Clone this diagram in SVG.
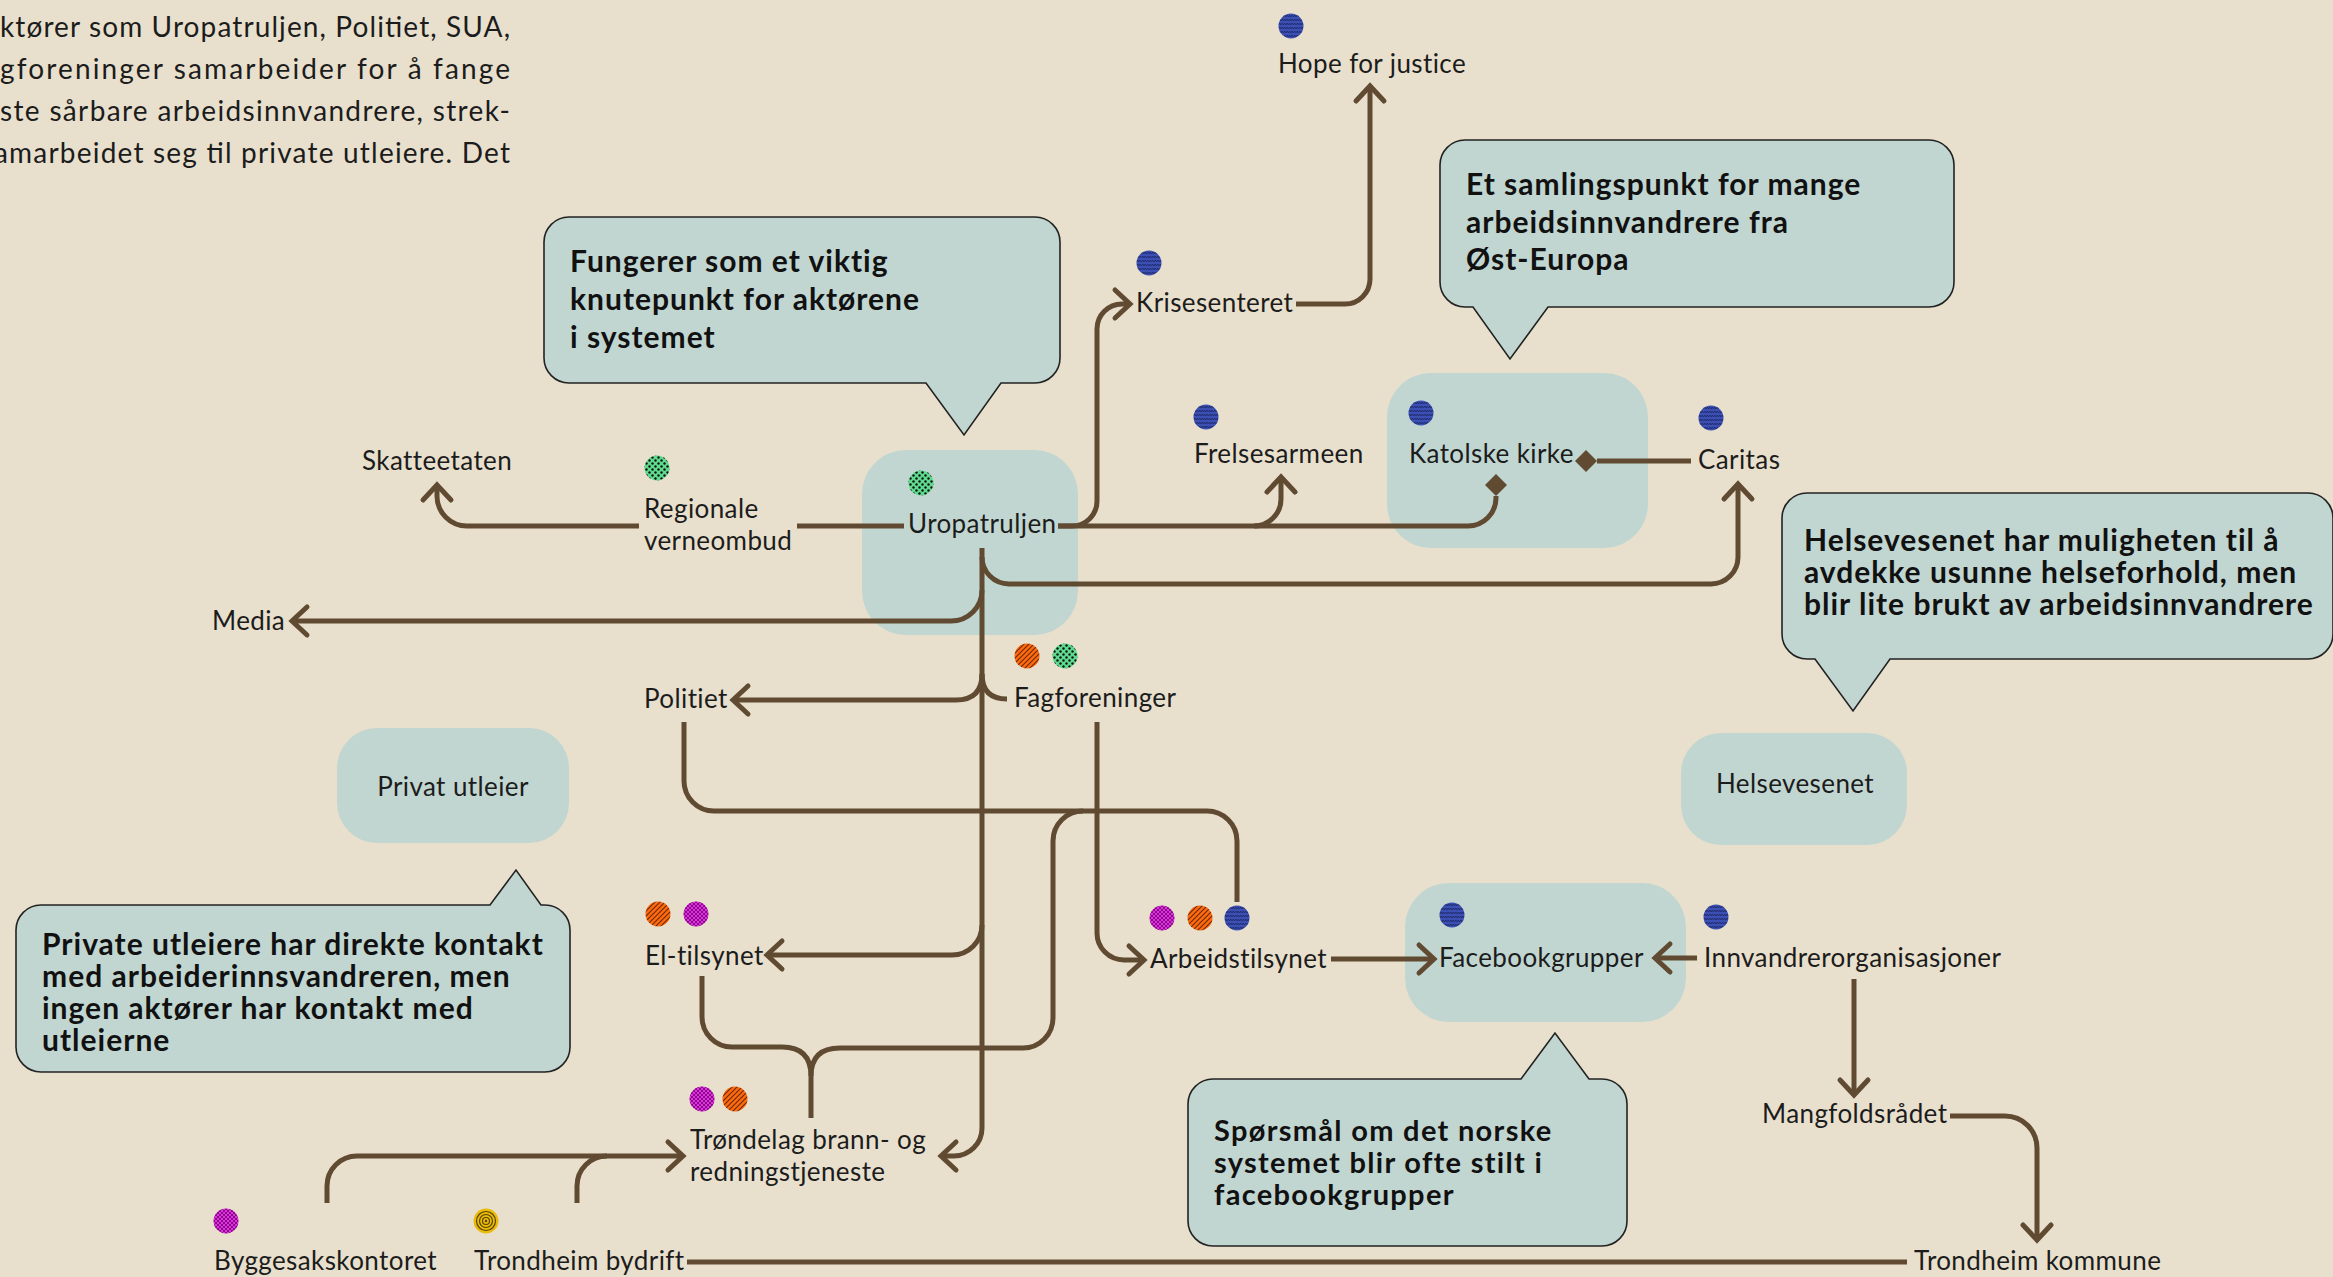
<svg xmlns="http://www.w3.org/2000/svg" width="2333" height="1277" viewBox="0 0 2333 1277">
<style>
.lbl{font-family:Lato,'Liberation Sans',sans-serif;font-size:26px;letter-spacing:0.4px;fill:#1c1c1c}
.co{font-family:Lato,'Liberation Sans',sans-serif;font-size:30px;font-weight:700;letter-spacing:1px;fill:#111}
.co2{font-size:29px;letter-spacing:1.3px}
.intro{font-family:Lato,'Liberation Sans',sans-serif;font-size:28px;fill:#1c1c1c}
.bub{fill:#c1d6d1}
.call{fill:#c1d6d1;stroke:#222;stroke-width:1.6}
.conn path{fill:none;stroke:#604a32;stroke-width:5}
.arr{marker-end:url(#arrow)}
.dia{marker-end:url(#diamond)}
</style>
<defs>
<marker id="arrow" viewBox="-20 -20 40 40" markerWidth="40" markerHeight="40" refX="0" refY="0" orient="auto" markerUnits="userSpaceOnUse" overflow="visible">
<path d="M-15,-14 L0,0 L-15,14" fill="none" stroke="#604a32" stroke-width="5" stroke-linecap="round"/>
</marker>
<marker id="diamond" viewBox="-5 -15 30 30" markerWidth="30" markerHeight="30" refX="0" refY="0" orient="auto" markerUnits="userSpaceOnUse" overflow="visible">
<path d="M0,0 L11,-11 L22,0 L11,11 Z" fill="#604a32"/>
</marker>
<pattern id="pBlue" width="5" height="4" patternUnits="userSpaceOnUse">
<rect width="5" height="4" fill="#3c4fb2"/>
<path d="M0,3 L1.25,1 L2.5,3 L3.75,1 L5,3" fill="none" stroke="#1d2a6e" stroke-width="0.9"/>
</pattern>
<pattern id="pGreen" width="6" height="6" patternUnits="userSpaceOnUse">
<rect width="6" height="6" fill="#5edc8d"/>
<circle cx="1.5" cy="1.5" r="1.2" fill="#111"/>
<circle cx="4.5" cy="4.5" r="1.2" fill="#111"/>
</pattern>
<pattern id="pOrange" width="5" height="5" patternUnits="userSpaceOnUse">
<rect width="5" height="5" fill="#ff6a10"/>
<path d="M-1,6 L6,-1 M-1,1 L1,-1 M4,6 L6,4" stroke="#6b2800" stroke-width="1.1"/>
</pattern>
<pattern id="pMag" width="4" height="4" patternUnits="userSpaceOnUse">
<rect width="4" height="4" fill="#e62ee6"/>
<path d="M0,0 L4,4 M4,0 L0,4" stroke="#5a005a" stroke-width="0.7"/>
</pattern>
<circle id="dBlue" r="12.5" fill="url(#pBlue)"/>
<circle id="dGreen" r="12.5" fill="url(#pGreen)"/>
<circle id="dOrange" r="12.5" fill="url(#pOrange)"/>
<circle id="dMag" r="12.5" fill="url(#pMag)"/>
<g id="dYellow">
<circle r="12.5" fill="#e9bb0b"/>
<circle r="9.5" fill="none" stroke="#5a4400" stroke-width="1.2"/>
<circle r="6.5" fill="none" stroke="#5a4400" stroke-width="1.2"/>
<circle r="3.5" fill="none" stroke="#5a4400" stroke-width="1.2"/>
<circle r="1.2" fill="#5a4400"/>
</g>
</defs>
<rect width="2333" height="1277" fill="#e8e0cd"/>

<g id="intro">
<text class="intro" x="0" y="37" textLength="510" lengthAdjust="spacing">ktører som Uropatruljen, Politiet, SUA,</text>
<text class="intro" x="0" y="79" textLength="510" lengthAdjust="spacing">gforeninger samarbeider for å fange</text>
<text class="intro" x="0" y="121" textLength="510" lengthAdjust="spacing">ste sårbare arbeidsinnvandrere, strek-</text>
<text class="intro" x="-6" y="163" textLength="516" lengthAdjust="spacing">amarbeidet seg til private utleiere. Det</text>
</g>

<!-- node bubbles -->
<g id="bubble-uropatruljen"><rect class="bub" x="862" y="450" width="216" height="185" rx="44"/></g>
<g id="bubble-katolske"><rect class="bub" x="1387" y="373" width="261" height="175" rx="44"/></g>
<g id="bubble-facebook"><rect class="bub" x="1405" y="883" width="281" height="139" rx="44"/></g>

<g id="connectors" class="conn">
<path class="arr" d="M639,526 H467 A30,30 0 0 1 437,496 V485"/>
<path d="M797,526 H904"/>
<path class="arr" d="M1058,526 H1072 A25,25 0 0 0 1097,501 V329 A25,25 0 0 1 1122,304 H1130"/>
<path class="arr" d="M1296,304 H1345 A25,25 0 0 0 1370,279 V86"/>
<path class="dia" d="M1058,526 H1468 A28,28 0 0 0 1496,498 V496"/>
<path class="arr" d="M1254,526 A27,27 0 0 0 1281,499 V477"/>
<path class="dia" d="M1691,461 H1597"/>
<path class="arr" d="M982,548 V1128 A28,28 0 0 1 954,1156 H941"/>
<path class="arr" d="M982,557 A27,27 0 0 0 1009,584 H1711 A27,27 0 0 0 1738,557 V484"/>
<path class="arr" d="M982,590 A31,31 0 0 1 951,621 H292"/>
<path d="M1007,699 Q982,699 982,674"/>
<path class="arr" d="M982,674 Q982,700 956,700 H733"/>
<path d="M684,722 V781 A30,30 0 0 0 714,811 H1207 A30,30 0 0 1 1237,841 V902"/>
<path class="arr" d="M1097,722 V933 A27,27 0 0 0 1124,960 H1144"/>
<path class="arr" d="M982,925 A30,30 0 0 1 952,955 H767"/>
<path d="M702,976 V1017 A30,30 0 0 0 732,1047 H782 Q811,1047 811,1076 V1118"/>
<path d="M811,1076 Q811,1048 840,1048 H1023 A30,30 0 0 0 1053,1018 V841 A30,30 0 0 1 1083,811"/>
<path class="arr" d="M327,1203 V1186 A30,30 0 0 1 357,1156 H683"/>
<path d="M577,1203 V1186 A30,30 0 0 1 607,1156"/>
<path class="arr" d="M1331,959 H1434"/>
<path class="arr" d="M1697,958 H1655"/>
<path class="arr" d="M1854,979 V1095"/>
<path class="arr" d="M1950,1116 H2005 A32,32 0 0 1 2037,1148 V1240"/>
<path d="M687,1262 H1907"/>
</g>

<g id="hope-for-justice"><use href="#dBlue" x="1291" y="26"/><text class="lbl" x="1278" y="73">Hope for justice</text></g>
<g id="krisesenteret"><use href="#dBlue" x="1149" y="263"/><text class="lbl" x="1136" y="312">Krisesenteret</text></g>
<g id="frelsesarmeen"><use href="#dBlue" x="1206" y="417"/><text class="lbl" x="1194" y="463">Frelsesarmeen</text></g>
<g id="katolske-kirke"><use href="#dBlue" x="1421" y="413"/><text class="lbl" x="1409" y="463">Katolske kirke</text></g>
<g id="caritas"><use href="#dBlue" x="1711" y="418"/><text class="lbl" x="1698" y="469">Caritas</text></g>
<g id="skatteetaten"><text class="lbl" x="362" y="470">Skatteetaten</text></g>
<g id="regionale-verneombud"><use href="#dGreen" x="657" y="468"/><text class="lbl" x="644" y="518">Regionale</text><text class="lbl" x="644" y="550">verneombud</text></g>
<g id="uropatruljen"><use href="#dGreen" x="921" y="483"/><text class="lbl" x="908" y="533">Uropatruljen</text></g>
<g id="media"><text class="lbl" x="212" y="630">Media</text></g>
<g id="politiet"><text class="lbl" x="644" y="708">Politiet</text></g>
<g id="fagforeninger"><use href="#dOrange" x="1027" y="656"/><use href="#dGreen" x="1065" y="656"/><text class="lbl" x="1014" y="707">Fagforeninger</text></g>
<g id="privat-utleier"><rect class="bub" x="337" y="728" width="232" height="115" rx="40"/><text class="lbl" x="453" y="796" text-anchor="middle">Privat utleier</text></g>
<g id="el-tilsynet"><use href="#dOrange" x="658" y="914"/><use href="#dMag" x="696" y="914"/><text class="lbl" x="645" y="965">El-tilsynet</text></g>
<g id="arbeidstilsynet"><use href="#dMag" x="1162" y="918"/><use href="#dOrange" x="1200" y="918"/><use href="#dBlue" x="1237" y="918"/><text class="lbl" x="1150" y="968">Arbeidstilsynet</text></g>
<g id="facebookgrupper"><use href="#dBlue" x="1452" y="915"/><text class="lbl" x="1439" y="967">Facebookgrupper</text></g>
<g id="innvandrerorganisasjoner"><use href="#dBlue" x="1716" y="917"/><text class="lbl" x="1704" y="967">Innvandrerorganisasjoner</text></g>
<g id="helsevesenet"><rect class="bub" x="1681" y="733" width="226" height="112" rx="40"/><text class="lbl" x="1716" y="793">Helsevesenet</text></g>
<g id="mangfoldsradet"><text class="lbl" x="1762" y="1123">Mangfoldsrådet</text></g>
<g id="trondelag-brann"><use href="#dMag" x="702" y="1099"/><use href="#dOrange" x="735" y="1099"/><text class="lbl" x="690" y="1149">Trøndelag brann- og</text><text class="lbl" x="690" y="1181">redningstjeneste</text></g>
<g id="byggesakskontoret"><use href="#dMag" x="226" y="1221"/><text class="lbl" x="214" y="1270">Byggesakskontoret</text></g>
<g id="trondheim-bydrift"><use href="#dYellow" x="486" y="1221"/><text class="lbl" x="474" y="1270">Trondheim bydrift</text></g>
<g id="trondheim-kommune"><text class="lbl" x="1914" y="1270">Trondheim kommune</text></g>

<g id="callout-knutepunkt">
<path class="call" d="M569,217 H1035 A25,25 0 0 1 1060,242 V358 A25,25 0 0 1 1035,383 H1001 L964,435 L926,383 H569 A25,25 0 0 1 544,358 V242 A25,25 0 0 1 569,217 Z"/>
<text class="co" x="570" y="272">Fungerer som et viktig</text>
<text class="co" x="570" y="310">knutepunkt for aktørene</text>
<text class="co" x="570" y="348">i systemet</text>
</g>
<g id="callout-samlingspunkt">
<path class="call" d="M1465,140 H1929 A25,25 0 0 1 1954,165 V282 A25,25 0 0 1 1929,307 H1548 L1510,359 L1473,307 H1465 A25,25 0 0 1 1440,282 V165 A25,25 0 0 1 1465,140 Z"/>
<text class="co" x="1466" y="195">Et samlingspunkt for mange</text>
<text class="co" x="1466" y="233">arbeidsinnvandrere fra</text>
<text class="co" x="1466" y="270">Øst-Europa</text>
</g>
<g id="callout-helse">
<path class="call" d="M1807,493 H2308 A25,25 0 0 1 2333,518 V634 A25,25 0 0 1 2308,659 H1890 L1853,711 L1815,659 H1807 A25,25 0 0 1 1782,634 V518 A25,25 0 0 1 1807,493 Z"/>
<text class="co" x="1804" y="551">Helsevesenet har muligheten til å</text>
<text class="co" x="1804" y="583">avdekke usunne helseforhold, men</text>
<text class="co" x="1804" y="615">blir lite brukt av arbeidsinnvandrere</text>
</g>
<g id="callout-utleiere">
<path class="call" d="M41,905 H490 L516,870 L541,905 H545 A25,25 0 0 1 570,930 V1047 A25,25 0 0 1 545,1072 H41 A25,25 0 0 1 16,1047 V930 A25,25 0 0 1 41,905 Z"/>
<text class="co" x="42" y="955">Private utleiere har direkte kontakt</text>
<text class="co" x="42" y="987">med arbeiderinnsvandreren, men</text>
<text class="co" x="42" y="1019">ingen aktører har kontakt med</text>
<text class="co" x="42" y="1051">utleierne</text>
</g>
<g id="callout-facebook">
<path class="call" d="M1213,1079 H1521 L1555,1033 L1589,1079 H1602 A25,25 0 0 1 1627,1104 V1221 A25,25 0 0 1 1602,1246 H1213 A25,25 0 0 1 1188,1221 V1104 A25,25 0 0 1 1213,1079 Z"/>
<text class="co co2" x="1214" y="1141">Spørsmål om det norske</text>
<text class="co co2" x="1214" y="1173">systemet blir ofte stilt i</text>
<text class="co co2" x="1214" y="1205">facebookgrupper</text>
</g>
</svg>
